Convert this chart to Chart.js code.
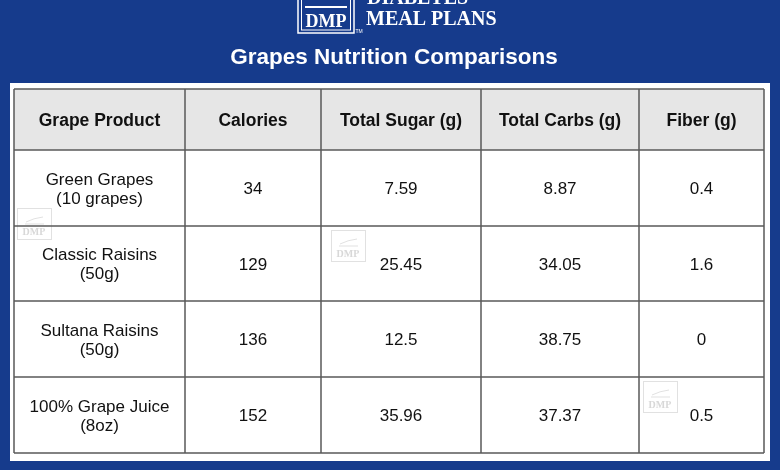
<!DOCTYPE html>
<html>
<head>
<meta charset="utf-8">
<script src="https://cdn.jsdelivr.net/npm/chart.js@4"></script>
<style>
  html,body{margin:0;padding:0;background:#163b8c;}
  canvas{display:block;}
</style>
</head>
<body>
<canvas id="c" width="780" height="470"></canvas>
<script>
// ---- data ----
const headers = ['Grape Product', 'Calories', 'Total Sugar (g)', 'Total Carbs (g)', 'Fiber (g)'];
const products = [['Green Grapes', '(10 grapes)'], ['Classic Raisins', '(50g)'], ['Sultana Raisins', '(50g)'], ['100% Grape Juice', '(8oz)']];
const calories = [34, 129, 136, 152];
const totalSugar = [7.59, 25.45, 12.5, 35.96];
const totalCarbs = [8.87, 34.05, 38.75, 37.37];
const fiber = [0.4, 1.6, 0, 0.5];
const titleText = 'Grapes Nutrition Comparisons';

// ---- layout (scale units) ----
const COL_EDGES = [0, 171, 307, 467, 625, 750];
const ROW_EDGES = [0, 61, 137, 212, 288, 364];
const colCenter = i => (COL_EDGES[i] + COL_EDGES[i + 1]) / 2;
const rowCenter = i => (ROW_EDGES[i] + ROW_EDGES[i + 1]) / 2;

const columns = [products, calories, totalSugar, totalCarbs, fiber];
const datasets = columns.map((col, ci) => ({
  label: headers[ci],
  data: col.map((v, ri) => ({ x: colCenter(ci), y: rowCenter(ri + 1), text: Array.isArray(v) ? v : [String(v)] })),
  pointRadius: 0,
  pointHoverRadius: 0
}));
datasets.push({
  label: 'header',
  data: headers.map((h, ci) => ({ x: colCenter(ci), y: rowCenter(0), text: [h], bold: true })),
  pointRadius: 0,
  pointHoverRadius: 0
});

const FONT = '"Liberation Sans", Arial, sans-serif';
const SERIF = '"Liberation Serif", "DejaVu Serif", serif';

function watermark(ctx, x, y) {
  ctx.save();
  ctx.strokeStyle = 'rgba(200,200,200,0.55)';
  ctx.lineWidth = 1;
  ctx.strokeRect(x + 0.5, y + 0.5, 34, 31);
  ctx.beginPath();
  ctx.moveTo(x + 9, y + 14); ctx.quadraticCurveTo(x + 17, y + 10, x + 26, y + 9);
  ctx.moveTo(x + 8, y + 16); ctx.lineTo(x + 27, y + 16);
  ctx.stroke();
  ctx.fillStyle = 'rgba(200,200,200,0.7)';
  ctx.font = 'bold 10px ' + SERIF;
  ctx.textAlign = 'center';
  ctx.textBaseline = 'middle';
  ctx.fillText('DMP', x + 17, y + 24);
  ctx.restore();
}

const tablePlugin = {
  id: 'tablePlugin',
  beforeDraw(chart) {
    const ctx = chart.ctx;
    const xs = chart.scales.x, ys = chart.scales.y;
    ctx.save();
    // background
    ctx.fillStyle = '#163b8c';
    ctx.fillRect(0, 0, chart.width, chart.height);
    // logo
    ctx.strokeStyle = '#ffffff';
    ctx.lineWidth = 1.5;
    ctx.strokeRect(298, -10, 56, 43);
    ctx.lineWidth = 1;
    ctx.strokeRect(301.5, -10, 49, 40);
    ctx.fillStyle = '#ffffff';
    ctx.font = 'bold 18px ' + SERIF;
    ctx.textAlign = 'center';
    ctx.textBaseline = 'alphabetic';
    ctx.fillText('DMP', 326, 27);
    ctx.fillRect(305, 6, 42, 2);
    ctx.font = '5px ' + FONT;
    ctx.fillText('TM', 359, 33);
    ctx.textAlign = 'left';
    ctx.font = 'bold 20px ' + SERIF;
    ctx.fillText('DIABETES', 367, 4);
    ctx.fillText('MEAL PLANS', 366, 25);
    // title
    ctx.textAlign = 'center';
    ctx.textBaseline = 'middle';
    ctx.font = 'bold 22.5px ' + FONT;
    ctx.fillText(titleText, 394, 58);
    // white panel
    ctx.fillStyle = '#ffffff';
    ctx.fillRect(10, 83, 760, 378);
    // header background
    const x0 = xs.getPixelForValue(COL_EDGES[0]), x1 = xs.getPixelForValue(COL_EDGES[COL_EDGES.length - 1]);
    const hy0 = ys.getPixelForValue(ROW_EDGES[0]), hy1 = ys.getPixelForValue(ROW_EDGES[1]);
    ctx.fillStyle = '#e6e6e6';
    ctx.fillRect(x0, hy0, x1 - x0, hy1 - hy0);
    // watermarks
    watermark(ctx, 17, 208);
    watermark(ctx, 331, 230);
    watermark(ctx, 643, 381);
    // grid
    ctx.strokeStyle = '#5a5a5a';
    ctx.lineWidth = 1.5;
    const yTop = ys.getPixelForValue(ROW_EDGES[0]), yBot = ys.getPixelForValue(ROW_EDGES[ROW_EDGES.length - 1]);
    ctx.beginPath();
    COL_EDGES.forEach(v => { const px = Math.round(xs.getPixelForValue(v)); ctx.moveTo(px, yTop); ctx.lineTo(px, yBot); });
    ROW_EDGES.forEach(v => { const py = Math.round(ys.getPixelForValue(v)); ctx.moveTo(x0, py); ctx.lineTo(x1, py); });
    ctx.stroke();
    ctx.restore();
  },
  afterDatasetsDraw(chart) {
    const ctx = chart.ctx;
    ctx.save();
    ctx.fillStyle = '#111111';
    ctx.textAlign = 'center';
    ctx.textBaseline = 'middle';
    chart.data.datasets.forEach((ds, di) => {
      const meta = chart.getDatasetMeta(di);
      meta.data.forEach((el, i) => {
        const item = ds.data[i];
        ctx.font = (item.bold ? 'bold 17.5px ' : '17px ') + FONT;
        const lines = item.text;
        const lh = 19;
        const off = item.bold ? 2 : 1.5;
        lines.forEach((t, li) => {
          ctx.fillText(t, el.x, el.y + off + (li - (lines.length - 1) / 2) * lh);
        });
      });
    });
    ctx.restore();
  }
};

new Chart(document.getElementById('c'), {
  type: 'scatter',
  data: { datasets },
  options: {
    responsive: false,
    devicePixelRatio: 1,
    animation: false,
    events: [],
    layout: { padding: { left: 14, right: 16, top: 89, bottom: 17 } },
    plugins: { legend: { display: false }, tooltip: { enabled: false }, title: { display: false } },
    scales: {
      x: { type: 'linear', min: 0, max: 750, display: false },
      y: { type: 'linear', min: 0, max: 364, reverse: true, display: false }
    }
  },
  plugins: [tablePlugin]
});
</script>
</body>
</html>
